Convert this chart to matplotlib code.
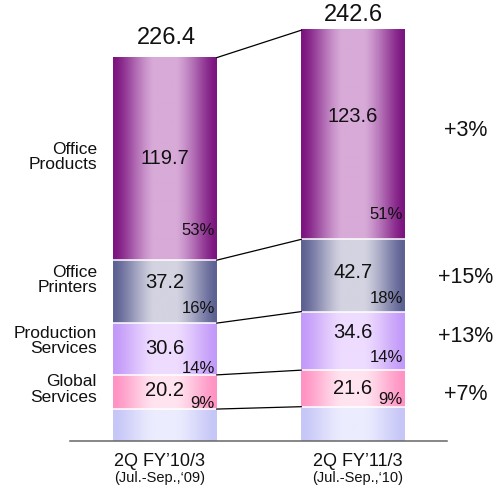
import numpy as np
import matplotlib
matplotlib.use("Agg")
import matplotlib.pyplot as plt
from matplotlib.colors import to_rgb

plt.rcParams['font.family'] = ['Liberation Sans', 'DejaVu Sans']

# ---------------- data ----------------
periods = ["2Q FY\u201910/3", "2Q FY\u201911/3"]
period_sub = ["(Jul.-Sep.,\u201809)", "(Jul.-Sep.,\u201810)"]
# segments, bottom to top
segment_names = ["", "Global\nServices", "Production\nServices", "Office\nPrinters", "Office\nProducts"]
other = [18.7, 20.1]
global_services = [20.2, 21.6]
production_services = [30.6, 34.6]
office_printers = [37.2, 42.7]
office_products = [119.7, 123.6]
totals = [226.4, 242.6]
shares_p1 = ["", "9%", "14%", "16%", "53%"]
shares_p2 = ["", "9%", "14%", "18%", "51%"]
growth = ["", "+7%", "+13%", "+15%", "+3%"]

# ---------------- styles / layout ----------------
edge_colors = ["#c6c6f7", "#ff93c3", "#c39af9", "#5e6293", "#7c1580"]
center_colors = ["#ececff", "#ffe3ef", "#eedcff", "#d3d3e1", "#d8aad8"]
TXT = "#111111"

W, H = 502, 493
base_px = 440.7
px_per_unit = 1.692
bar_centers = [165, 353]
bar_width = 103.5

fig = plt.figure(figsize=(W / 100, H / 100), dpi=100)
ax = fig.add_axes([0, 0, 1, 1])
ax.axis('off')

series = [other, global_services, production_services, office_printers, office_products]
shares = [shares_p1, shares_p2]

t = np.linspace(0, 1, 256)
prof = np.clip(1.12 * np.sin(np.pi * t) ** 1.4 - 0.02, 0, 1)

cum = []  # cum[b][k] = top of segment k in bar b
for b in range(2):
    x0 = bar_centers[b] - bar_width / 2
    x1 = bar_centers[b] + bar_width / 2
    bottom = 0.0
    tops = []
    for k, s in enumerate(series):
        v = s[b]
        top = bottom + v
        e = np.array(to_rgb(edge_colors[k]))
        c = np.array(to_rgb(center_colors[k]))
        img = e[None, :] + (c - e)[None, :] * prof[:, None]
        ax.imshow(img[None, :, :], extent=(x0, x1, bottom, top), aspect='auto',
                  interpolation='bilinear', zorder=1)
        if k > 0:
            ax.plot([x0, x1], [bottom, bottom], color='white', lw=1.1, zorder=2)
        tops.append(top)
        bottom = top
    cum.append(tops)

# pixel offsets (layout)
val_dy = [[0, 1, 0, 9, 0], [0, 0, 8, 3, 18]]
pct_dy = [[0, 5.7, 6, 15, 30], [0, 7, 13, 13, 25]]
left_dy = [0, 2.5, 8, 11.7, 2]
right_dy = [0, -6.3, 4, -1.6, 4]

for b in range(2):
    x1 = bar_centers[b] + bar_width / 2
    for k, s in enumerate(series):
        if k == 0:
            continue
        bot = cum[b][k] - s[b]
        mid = (bot + cum[b][k]) / 2
        ax.annotate(f"{s[b]:.1f}", xy=(bar_centers[b], mid), xytext=(0, val_dy[b][k]),
                    textcoords='offset pixels', ha='center', va='center',
                    fontsize=14.5, color=TXT, zorder=5)
        ax.annotate(shares[b][k], xy=(x1, bot), xytext=(-2, pct_dy[b][k]),
                    textcoords='offset pixels', ha='right', va='center',
                    fontsize=12, color=TXT, zorder=5)

# left category labels (next to first bar)
for k in range(1, 5):
    bot = cum[0][k] - series[k][0]
    mid = (bot + cum[0][k]) / 2
    ax.annotate(segment_names[k], xy=(97, mid), xytext=(0, left_dy[k]),
                textcoords='offset pixels', ha='right', va='center',
                fontsize=12.5, color=TXT, linespacing=1.05, multialignment='right')

# right growth labels (next to second bar)
for k in range(1, 5):
    bot = cum[1][k] - series[k][1]
    mid = (bot + cum[1][k]) / 2
    ax.annotate(growth[k], xy=(466, mid), xytext=(0, right_dy[k]),
                textcoords='offset pixels', ha='center', va='center',
                fontsize=15.5, color=TXT)

# connectors
for k in range(5):
    xa = bar_centers[0] + bar_width / 2
    xb = bar_centers[1] - bar_width / 2
    ax.plot([xa, xb], [cum[0][k], cum[1][k]], color='black', lw=0.9, zorder=3)

# totals
tot_dy = [20, 15]
tot_dx = [1, 0]
for b in range(2):
    ax.annotate(f"{totals[b]:.1f}", xy=(bar_centers[b], totals[b]),
                xytext=(tot_dx[b], tot_dy[b]), textcoords='offset pixels',
                ha='center', va='center', fontsize=17, color=TXT)

# baseline
ax.plot([70, 447], [0, 0], color='#666666', lw=1.1, zorder=4)

# x labels
xl_dx = [-5, 5]
for b in range(2):
    ax.annotate(periods[b], xy=(bar_centers[b], 0), xytext=(xl_dx[b], -21),
                textcoords='offset pixels', ha='center', va='center',
                fontsize=13, color=TXT)
    ax.annotate(period_sub[b], xy=(bar_centers[b], 0), xytext=(xl_dx[b], -37.3),
                textcoords='offset pixels', ha='center', va='center',
                fontsize=10.5, color=TXT)

ax.set_xlim(0, W)
ax.set_ylim(-(H - base_px) / px_per_unit, base_px / px_per_unit)

fig.savefig("out.png", dpi=100)
